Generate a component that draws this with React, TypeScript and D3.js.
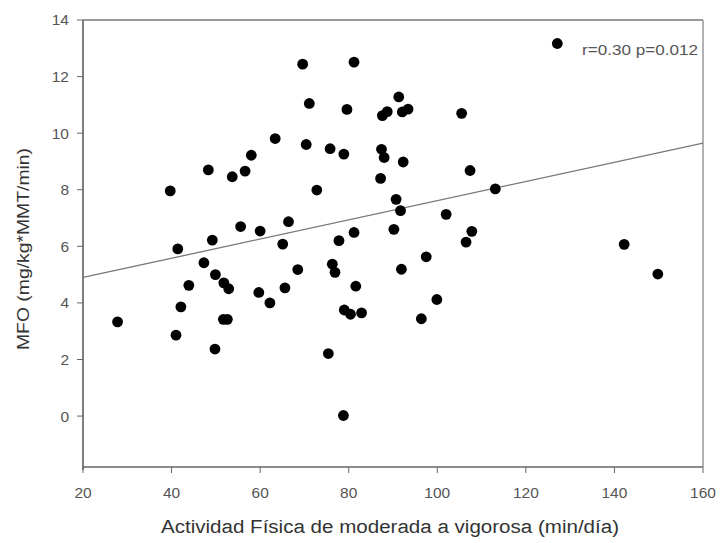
import React from "react";
import * as d3 from "d3";

// Actividad física MVPA (min/día) vs MFO (mg/kg*MMT/min)
const actividad = [
  27.8, 39.7, 41.0, 41.4, 42.1, 43.9, 47.3, 48.3, 49.2, 49.8,
  49.9, 51.7, 51.8, 52.6, 52.9, 53.7, 55.6, 56.6, 58.0, 59.7,
  60.0, 62.2, 63.4, 65.1, 65.6, 66.4, 68.5, 69.6, 70.4, 71.1,
  72.8, 75.4, 75.8, 76.3, 76.9, 77.8, 78.8, 78.9, 79.0, 79.6,
  80.4, 81.2, 81.2, 81.6, 82.9, 87.2, 87.4, 87.6, 88.0, 88.7,
  90.2, 90.7, 91.3, 91.7, 91.9, 92.1, 92.3, 93.4, 96.4, 97.5,
  99.9, 102.0, 105.5, 106.5, 107.4, 107.8, 113.1, 127.1, 142.2, 149.8,
];
const mfo = [
  3.33, 7.96, 2.86, 5.91, 3.86, 4.62, 5.42, 8.7, 6.22, 2.37,
  5.0, 3.42, 4.71, 3.42, 4.5, 8.46, 6.7, 8.66, 9.22, 4.37,
  6.54, 4.0, 9.81, 6.08, 4.53, 6.87, 5.18, 12.44, 9.6, 11.05,
  7.99, 2.21, 9.45, 5.37, 5.08, 6.2, 0.02, 9.26, 3.75, 10.84,
  3.6, 12.51, 6.49, 4.59, 3.65, 8.4, 9.43, 10.62, 9.14, 10.76,
  6.6, 7.66, 11.28, 7.26, 5.19, 10.75, 8.98, 10.85, 3.44, 5.63,
  4.12, 7.13, 10.7, 6.15, 8.68, 6.53, 8.03, 13.17, 6.07, 5.02,
];

// regression line end points (x, y)
const fitX = [20, 160];
const fitY = [4.9, 9.65];

const xTicks = [20, 40, 60, 80, 100, 120, 140, 160];
const yTicks = [0, 2, 4, 6, 8, 10, 12, 14];
const annotation = "r=0.30 p=0.012";

const W = 721;
const H = 543;
const m = { left: 83, right: 703, top: 20, bottom: 467 };

export default function App() {
  const x = d3.scaleLinear().domain([20, 160]).range([m.left, m.right]);
  const y = d3.scaleLinear().domain([-1.8, 14]).range([m.bottom, m.top]);

  const line = d3
    .line<number>()
    .x((d) => x(fitX[d]))
    .y((d) => y(fitY[d]));

  const font = "'Liberation Sans', Arial, sans-serif";

  return (
    <svg
      width={W}
      height={H}
      style={{ position: "absolute", left: 0, top: 0, background: "#fff" }}
      fontFamily={font}
    >
      {/* frame top/right */}
      <line x1={m.left} x2={m.right} y1={m.top} y2={m.top} stroke="#999" strokeWidth={2} />
      <line x1={m.right} x2={m.right} y1={m.top} y2={m.bottom} stroke="#999" strokeWidth={1.5} />
      {/* axes */}
      <line x1={m.left} x2={m.left} y1={m.top} y2={m.bottom + 3} stroke="#555" strokeWidth={1.5} />
      <line x1={m.left} x2={m.right} y1={m.bottom} y2={m.bottom} stroke="#666" strokeWidth={1.5} />

      {yTicks.map((t) => (
        <g key={"y" + t}>
          <line x1={m.left - 6} x2={m.left} y1={y(t)} y2={y(t)} stroke="#666" />
          <text
            x={69}
            y={y(t)}
            dy="0.35em"
            textAnchor="end"
            fontSize={15.5}
            fill="#555"
          >
            {t}
          </text>
        </g>
      ))}
      {xTicks.map((t) => (
        <g key={"x" + t}>
          <line x1={x(t)} x2={x(t)} y1={m.bottom} y2={m.bottom + 6} stroke="#666" />
          <text x={x(t)} y={498} textAnchor="middle" fontSize={15.5} fill="#555">
            {t}
          </text>
        </g>
      ))}

      <path d={line([0, 1]) ?? ""} fill="none" stroke="#777" strokeWidth={1.3} />

      {actividad.map((a, i) => (
        <circle key={i} cx={x(a)} cy={y(mfo[i])} r={5.4} fill="#000" />
      ))}

      <text
        x={582}
        y={55}
        fontSize={15.5}
        fill="#555"
        textLength={116}
        lengthAdjust="spacingAndGlyphs"
      >
        {annotation}
      </text>

      <text
        x={161}
        y={533}
        fontSize={18}
        fill="#333"
        textLength={458}
        lengthAdjust="spacingAndGlyphs"
      >
        Actividad Física de moderada a vigorosa (min/día)
      </text>
      <text
        transform="translate(29,350) rotate(-90)"
        fontSize={17}
        fill="#333"
        textLength={202}
        lengthAdjust="spacingAndGlyphs"
      >
        MFO (mg/kg*MMT/min)
      </text>
    </svg>
  );
}
